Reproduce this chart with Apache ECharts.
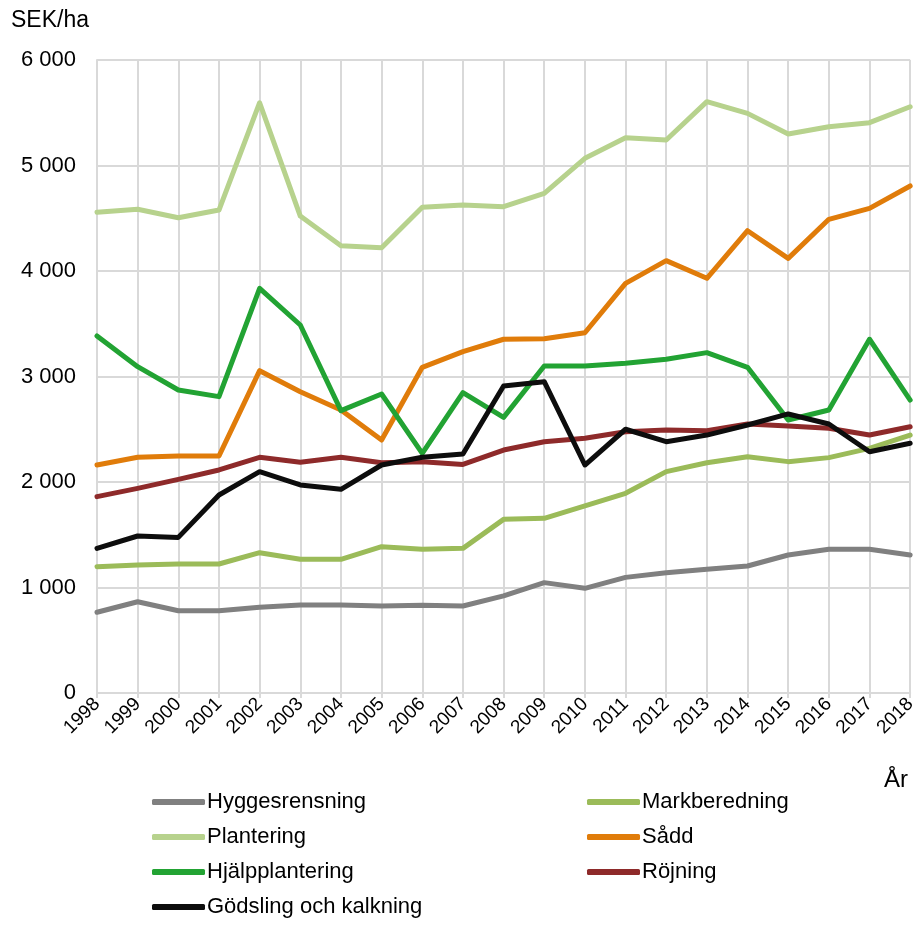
<!DOCTYPE html>
<html>
<head>
<meta charset="utf-8">
<script src="https://cdn.jsdelivr.net/npm/echarts@6/dist/echarts.min.js"></script>
<style>
  html, body { margin: 0; padding: 0; background: #fff; }
  #chart { width: 919px; height: 925px; }
</style>
</head>
<body>
<div id="chart"></div>
<script>
// år
var years = ['1998','1999','2000','2001','2002','2003','2004','2005','2006','2007','2008',
             '2009','2010','2011','2012','2013','2014','2015','2016','2017','2018'];

// SEK/ha per åtgärd
var hyggesrensning = [765, 865, 780, 780, 812, 834, 834, 825, 831, 825, 920,
                      1046, 992, 1096, 1140, 1172, 1204, 1308, 1362, 1362, 1308];
var markberedning = [1197, 1213, 1223, 1223, 1330, 1267, 1267, 1387, 1362, 1371, 1646,
                     1656, 1773, 1893, 2098, 2183, 2240, 2193, 2231, 2319, 2445];
var plantering = [4556, 4585, 4505, 4578, 5595, 4521, 4240, 4221, 4604, 4626, 4610,
                  4736, 5068, 5264, 5242, 5605, 5494, 5299, 5368, 5406, 5557];
var sadd = [2161, 2234, 2246, 2246, 3055, 2856, 2682, 2398, 3087, 3235, 3353,
            3358, 3415, 3883, 4098, 3931, 4382, 4120, 4490, 4594, 4806];
var hjalpplantering = [3384, 3093, 2872, 2809, 3836, 3488, 2676, 2834, 2272, 2847, 2613,
                       3100, 3100, 3125, 3163, 3226, 3087, 2588, 2682, 3353, 2777];
var rojning = [1861, 1940, 2025, 2114, 2234, 2187, 2234, 2183, 2193, 2167, 2303,
               2382, 2414, 2477, 2493, 2486, 2550, 2531, 2509, 2445, 2524];
var godsling = [1371, 1488, 1475, 1877, 2098, 1972, 1931, 2161, 2234, 2265, 2910,
                2951, 2161, 2500, 2382, 2445, 2540, 2645, 2550, 2287, 2367];

var yTicks = [0, 1000, 2000, 3000, 4000, 5000, 6000];

var FONT = '"Liberation Sans", Arial, sans-serif';

/**
 * bygg en linjeserie
 */
function makeLine(name, data, color) {
	return {
		name : name,
		type : 'line',
		data : data,
		symbol : 'none',
		lineStyle : { width : 5, color : color, cap : 'round', join : 'round' },
		itemStyle : { color : color },
		emphasis : { disabled : true }
	};
}

var myChart = echarts.init(document.getElementById('chart'));

var legendCommon = {
	orient : 'vertical',
	icon : 'roundRect',
	itemWidth : 53,
	itemHeight : 6,
	itemGap : 13,
	height : 200,
	selectedMode : false,
	textStyle : { fontFamily : FONT, fontSize : 22, color : '#000', padding : [0, 0, 0, -3] }
};

var option = {
	animation : false,
	backgroundColor : '#fff',
	grid : { left : 97, right : 6, top : 60, bottom : 232 },
	legend : [
		Object.assign({ left : 147, top : 786,
			data : ['Hyggesrensning', 'Plantering', 'Hjälpplantering', 'Gödsling och kalkning'] }, legendCommon),
		Object.assign({ left : 582, top : 786,
			data : ['Markberedning', 'Sådd', 'Röjning'] }, legendCommon)
	],
	graphic : [
		{ type : 'text', left : 11, top : 9,
		  style : { text : 'SEK/ha', font : '23px ' + FONT, fill : '#000' } },
		{ type : 'text', left : 884, top : 768,
		  style : { text : 'År', font : '24px ' + FONT, fill : '#000' } }
	],
	xAxis : {
		type : 'category',
		data : years,
		boundaryGap : false,
		axisLine : { lineStyle : { color : '#D9D9D9', width : 2 } },
		axisTick : { show : true, length : 5, lineStyle : { color : '#D9D9D9', width : 2 } },
		splitLine : { show : true, lineStyle : { color : '#D9D9D9', width : 2 } },
		axisLabel : { rotate : 45, interval : 0, margin : 8, fontFamily : FONT, fontSize : 19, color : '#000' }
	},
	yAxis : {
		type : 'value',
		min : yTicks[0],
		max : yTicks[yTicks.length - 1],
		interval : 1000,
		axisLine : { show : true, lineStyle : { color : '#D9D9D9', width : 2 } },
		axisTick : { show : false },
		splitLine : { lineStyle : { color : '#D9D9D9', width : 2 } },
		axisLabel : {
			margin : 21, fontFamily : FONT, fontSize : 22, color : '#000',
			formatter : function(v) {
				return String(v).replace(/\B(?=(\d{3})+(?!\d))/g, ' ');
			}
		}
	},
	series : [
		makeLine('Hyggesrensning', hyggesrensning, '#808080'),
		makeLine('Markberedning', markberedning, '#9BBB59'),
		makeLine('Plantering', plantering, '#B7D28D'),
		makeLine('Sådd', sadd, '#E07C0A'),
		makeLine('Hjälpplantering', hjalpplantering, '#22A333'),
		makeLine('Röjning', rojning, '#8E2A2A'),
		makeLine('Gödsling och kalkning', godsling, '#0D0D0D')
	]
};

myChart.setOption(option);
</script>
</body>
</html>
